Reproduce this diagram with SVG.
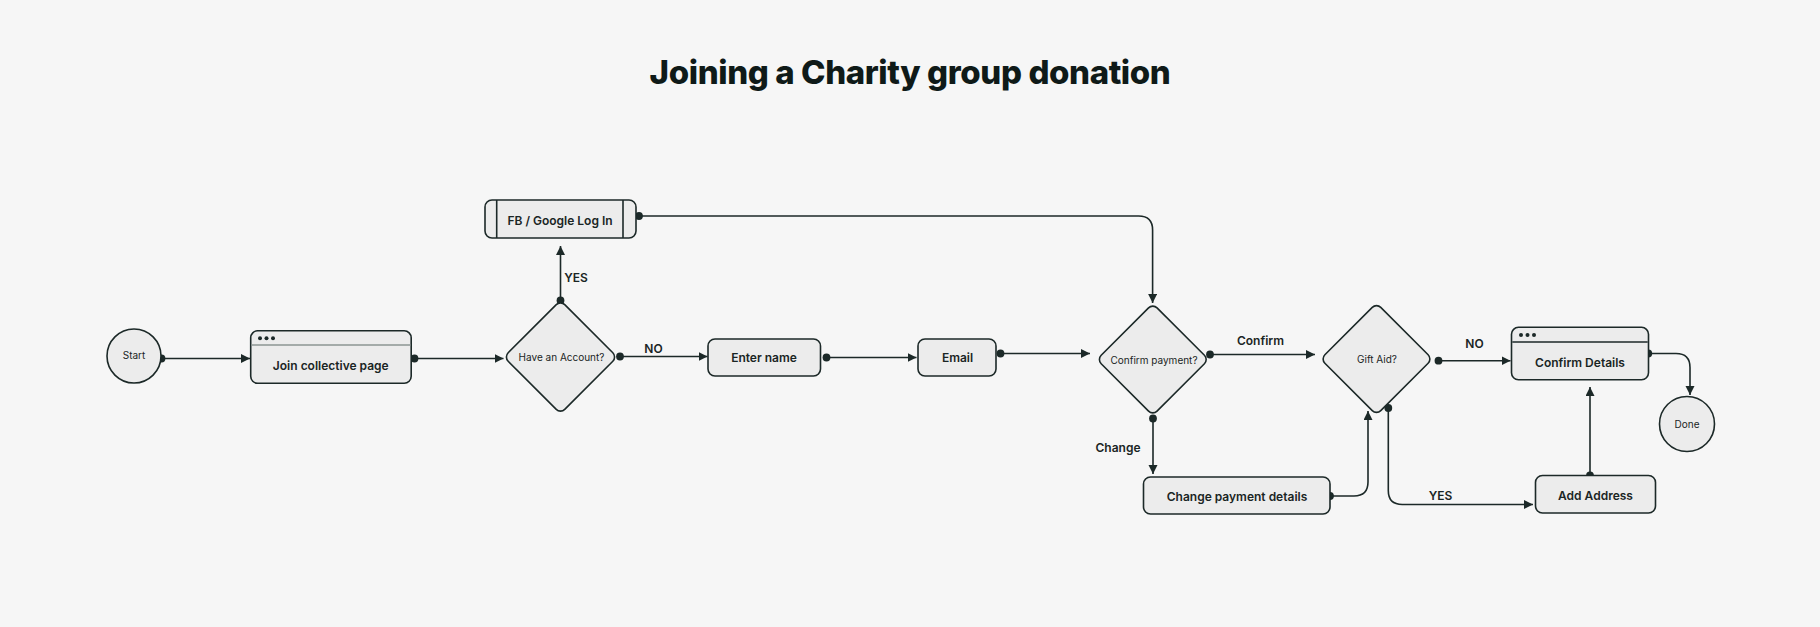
<svg xmlns="http://www.w3.org/2000/svg" width="1820" height="627" viewBox="0 0 1820 627">
<style>
  .bg { fill: #f6f6f6; }
  .node { fill: #ececec; stroke: #1c2928; stroke-width: 1.6; }
  .hdr { stroke: #8c9693; stroke-width: 1.6; }
  .inner { stroke: #1c2928; stroke-width: 1.6; }
  .dot3 { fill: #1c2928; }
  .t { font-family: Inter, "Noto Sans", sans-serif; fill: #1a2524; text-anchor: middle; dominant-baseline: central; }
  .tb { font-size: 12px; font-weight: 600; }
  .ts { font-size: 10px; font-weight: 400; }
  .lbl { font-family: Inter, "Noto Sans", sans-serif; fill: #1a2524; text-anchor: middle; dominant-baseline: central; font-size: 12px; font-weight: 600; }
  .title { font-family: Inter, "Noto Sans", sans-serif; fill: #0f1a18; text-anchor: middle; font-size: 33px; font-weight: 800; letter-spacing: -0.4px; }
  .conn { fill: none; stroke: #1c2928; stroke-width: 1.6; marker-start: url(#dot); marker-end: url(#arrow); }
</style>
<defs>
  <marker id="arrow" markerUnits="userSpaceOnUse" markerWidth="10" markerHeight="10" refX="9" refY="4.5" orient="auto">
    <path d="M0,0 L9,4.5 L0,9 z" fill="#1c2928"/>
  </marker>
  <marker id="dot" markerUnits="userSpaceOnUse" markerWidth="10" markerHeight="10" refX="5" refY="5" orient="auto">
    <circle cx="5" cy="5" r="3.9" fill="#1c2928"/>
  </marker>
</defs>
<rect class="bg" x="0" y="0" width="1820" height="627"/>
<text class="title" x="910" y="84">Joining a Charity group donation</text>

<g id="connectors">
  <path class="conn" d="M161.5,358.5 H250"/>
  <path class="conn" d="M414.5,358.5 H503.5"/>
  <path class="conn" d="M560.5,300.5 V246"/>
  <path class="conn" d="M620,356.5 H707.5"/>
  <path class="conn" d="M826.5,357.5 H916.5"/>
  <path class="conn" d="M1000.5,353.5 H1090"/>
  <path class="conn" d="M639,216 H1138.6 Q1152.6,216 1152.6,230 V303"/>
  <path class="conn" d="M1210,354.5 H1315"/>
  <path class="conn" d="M1153,418.5 V474"/>
  <path class="conn" d="M1330,496 H1354 Q1368,496 1368,482 V411"/>
  <path class="conn" d="M1438.5,360.7 H1510.5"/>
  <path class="conn" d="M1388.3,408 V490.5 Q1388.3,504.5 1402.3,504.5 H1533"/>
  <path class="conn" d="M1590,475.5 V387"/>
  <path class="conn" d="M1648.3,353.5 H1676 Q1690,353.5 1690,367.5 V395"/>
</g>

<g id="labels">
  <text class="lbl" x="576" y="277.5">YES</text>
  <text class="lbl" x="653.5" y="348.5">NO</text>
  <text class="lbl" x="1260.5" y="340.5">Confirm</text>
  <text class="lbl" x="1118" y="447">Change</text>
  <text class="lbl" x="1474.5" y="343.5">NO</text>
  <text class="lbl" x="1440.5" y="495.5">YES</text>
</g>

<g id="start">
  <circle class="node" cx="134" cy="356" r="27"/>
  <text class="t ts" x="134" y="355">Start</text>
</g>

<g id="join">
  <rect class="node" x="250.7" y="330.8" width="160.5" height="52.5" rx="7"/>
  <line class="hdr" x1="251.5" y1="345" x2="410.4" y2="345"/>
  <circle class="dot3" cx="260" cy="338.3" r="2"/>
  <circle class="dot3" cx="266.5" cy="338.3" r="2"/>
  <circle class="dot3" cx="273" cy="338.3" r="2"/>
  <text class="t tb" x="330.8" y="365.5">Join collective page</text>
</g>

<g id="have-account">
  <rect class="node" x="-40" y="-40" width="80" height="80" rx="6" transform="translate(560.5,357) rotate(45)"/>
  <text class="t ts" x="561.5" y="357">Have an Account?</text>
</g>

<g id="fb-login">
  <rect class="node" x="485" y="200" width="151" height="38" rx="7"/>
  <line class="inner" x1="496.7" y1="200" x2="496.7" y2="238"/>
  <line class="inner" x1="623" y1="200" x2="623" y2="238"/>
  <text class="t tb" x="560" y="220">FB / Google Log In</text>
</g>

<g id="enter-name">
  <rect class="node" x="708" y="339" width="112.5" height="37" rx="7"/>
  <text class="t tb" x="764" y="357.5">Enter name</text>
</g>

<g id="email">
  <rect class="node" x="918" y="339" width="78" height="37" rx="7"/>
  <text class="t tb" x="957.5" y="357.5">Email</text>
</g>

<g id="confirm-payment">
  <rect class="node" x="-39.5" y="-39.5" width="79" height="79" rx="6" transform="translate(1152.8,359.5) rotate(45)"/>
  <text class="t ts" x="1154" y="359.5">Confirm payment?</text>
</g>

<g id="change-payment">
  <rect class="node" x="1143.5" y="477" width="186.5" height="37" rx="7"/>
  <text class="t tb" x="1237" y="496.5">Change payment details</text>
</g>

<g id="gift-aid">
  <rect class="node" x="-39.5" y="-39.5" width="79" height="79" rx="6" transform="translate(1376.5,359) rotate(45)"/>
  <text class="t ts" x="1377" y="359">Gift Aid?</text>
</g>

<g id="confirm-details">
  <rect class="node" x="1511.5" y="327.3" width="137" height="52.5" rx="7"/>
  <line class="hdr" x1="1512.3" y1="342" x2="1647.7" y2="342" style="stroke:#1c2928"/>
  <circle class="dot3" cx="1521" cy="335" r="2"/>
  <circle class="dot3" cx="1527.5" cy="335" r="2"/>
  <circle class="dot3" cx="1534" cy="335" r="2"/>
  <text class="t tb" x="1580" y="362.5">Confirm Details</text>
</g>

<g id="add-address">
  <rect class="node" x="1535.5" y="475.5" width="120" height="37.5" rx="7"/>
  <text class="t tb" x="1595.5" y="495">Add Address</text>
</g>

<g id="done">
  <circle class="node" cx="1687" cy="424" r="27.5"/>
  <text class="t ts" x="1687" y="423.5">Done</text>
</g>
</svg>
